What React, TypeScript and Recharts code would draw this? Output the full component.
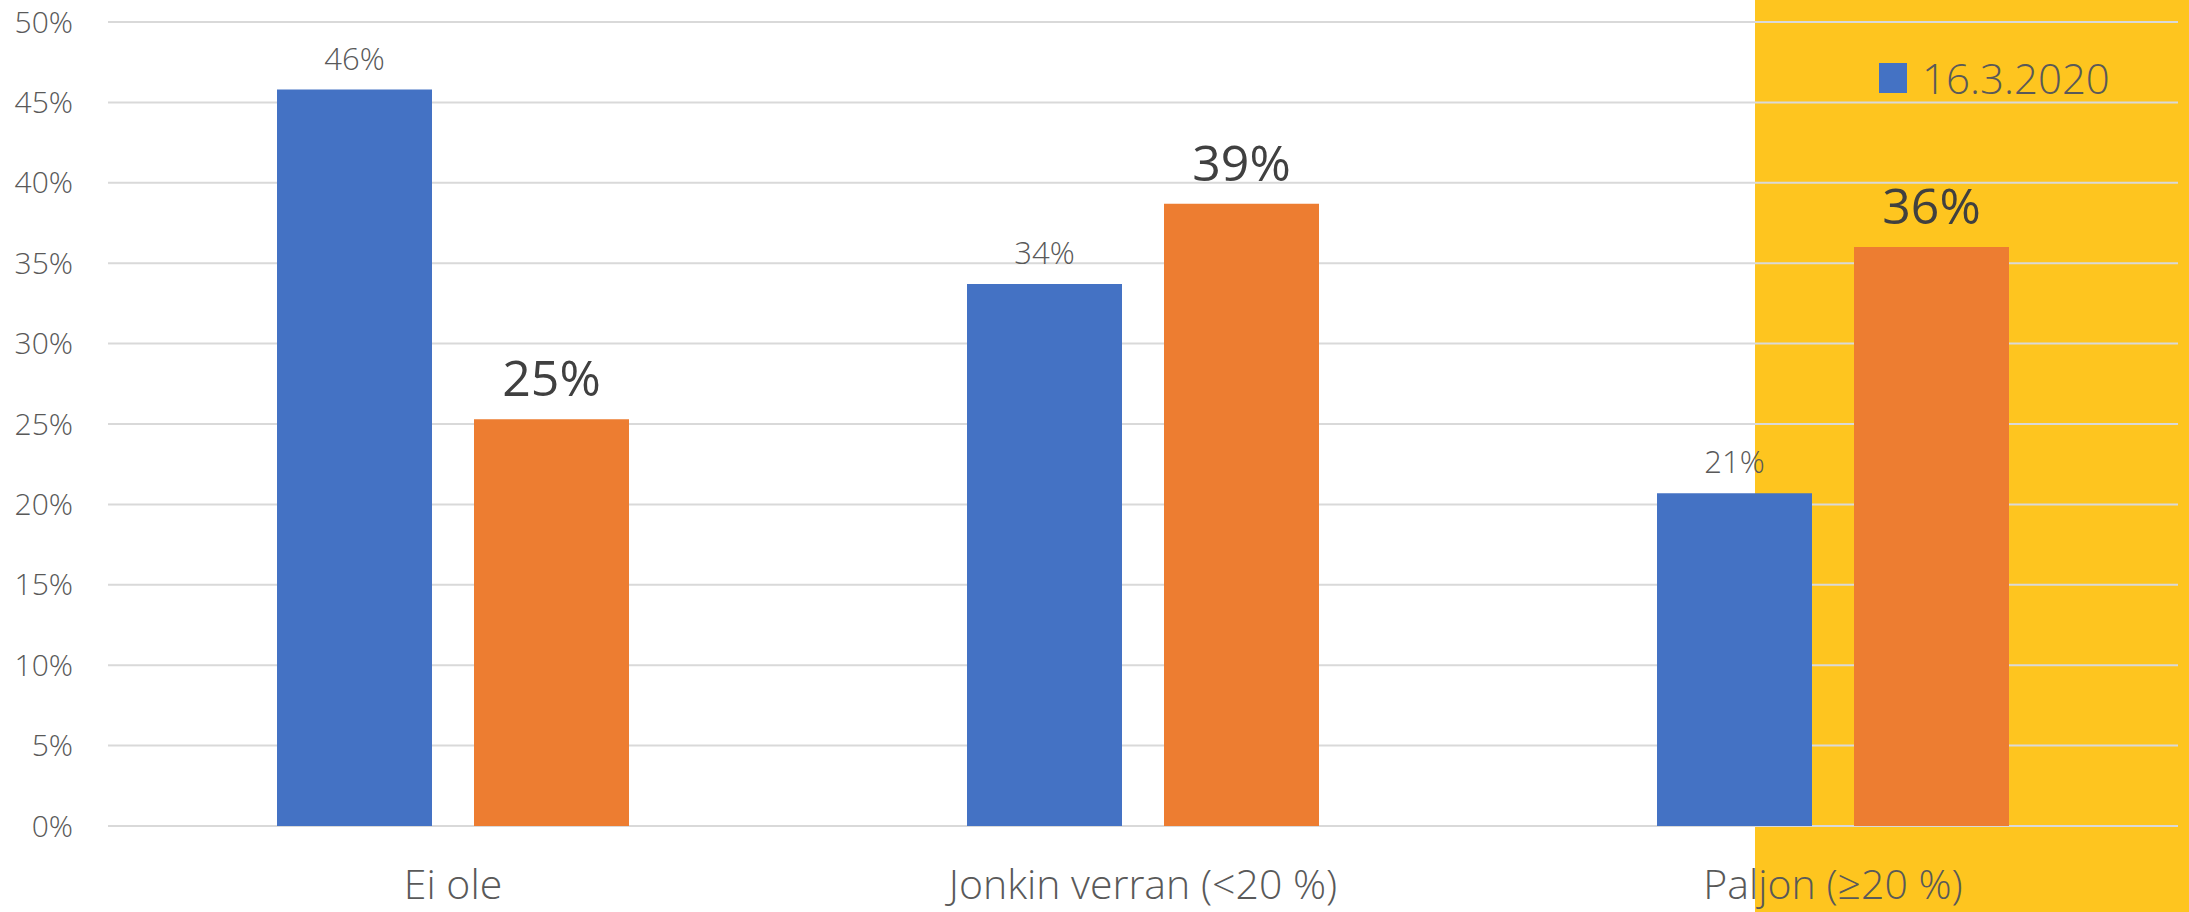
import { BarChart, Bar, XAxis, YAxis, CartesianGrid, Legend, LabelList } from "recharts";

const categories = ["Ei ole", "Jonkin verran (<20 %)", "Paljon (≥20 %)"];
const series2020 = [45.8, 33.7, 20.7];
const seriesLater = [25.3, 38.7, 36.0];
const yTicks = [0, 5, 10, 15, 20, 25, 30, 35, 40, 45, 50];

const data = categories.map((name, i) => ({
  name,
  first: series2020[i],
  second: seriesLater[i],
}));

const pct = (v: number) => `${Math.round(v)}%`;

// only the visible legend entries, square marker centred on the text
function LegendBox(props: any) {
  const items = (props.payload || []).filter((p: any) => p.type !== "none");
  return (
    <div style={{ display: "flex", alignItems: "center" }}>
      {items.map((p: any) => (
        <div key={p.value} style={{ display: "flex", alignItems: "center" }}>
          <div style={{ width: 28, height: 30, background: p.color, marginRight: 15 }} />
          <span style={{ color: "#595959", fontSize: 42, fontWeight: 300, lineHeight: 1.2 }}>{p.value}</span>
        </div>
      ))}
    </div>
  );
}

export default function App() {
  return (
    <div
      style={{
        position: "absolute",
        left: 0,
        top: 0,
        width: 2189,
        height: 912,
        background: "#ffffff",
        fontFamily: "'Open Sans', 'Noto Sans', sans-serif",
        fontWeight: 300,
        overflow: "hidden",
      }}
    >
      <div
        style={{
          position: "absolute",
          left: 1755,
          top: 0,
          width: 434,
          height: 912,
          background: "#FEC51F",
        }}
      />
      <div style={{ position: "absolute", left: 0, top: 0 }}>
        <BarChart
          width={2189}
          height={912}
          data={data}
          margin={{ top: 22, right: 11, bottom: 0, left: 0 }}
          barCategoryGap={169}
          barGap={42}
        >
          <CartesianGrid vertical={false} stroke="#D9D9D9" strokeWidth={2} />
          <XAxis
            dataKey="name"
            axisLine={false}
            tickLine={false}
            tickSize={0}
            tickMargin={44}
            height={86}
            interval={0}
            tick={{ fontSize: 41, fill: "#595959", fontWeight: 300 }}
          />
          <YAxis
            width={108}
            domain={[0, 50]}
            ticks={yTicks}
            tickFormatter={(v: number) => `${v}%`}
            axisLine={false}
            tickLine={false}
            tickSize={0}
            tickMargin={35}
            tick={{ fontSize: 30, fill: "#595959", fontWeight: 300 }}
          />
          <Legend
            verticalAlign="middle"
            align="center"
            layout="horizontal"
            content={<LegendBox />}
            wrapperStyle={{ position: "absolute", left: 1879, top: 53, width: "auto", height: "auto" }}
          />
          <Bar dataKey="first" name="16.3.2020" fill="#4472C4" isAnimationActive={false}>
            <LabelList
              dataKey="first"
              position="top"
              offset={20}
              formatter={pct}
              style={{ fontSize: 31, fill: "#595959", fontWeight: 300 }}
            />
          </Bar>
          <Bar dataKey="second" name="Nyt" fill="#ED7D31" legendType="none" isAnimationActive={false}>
            <LabelList
              dataKey="second"
              position="top"
              offset={23}
              formatter={pct}
              style={{ fontSize: 50, fill: "#404040", fontWeight: 400 }}
            />
          </Bar>
        </BarChart>
      </div>
    </div>
  );
}
